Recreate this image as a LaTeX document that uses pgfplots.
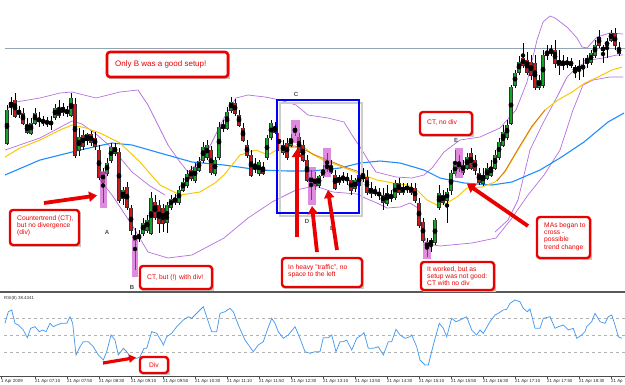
\documentclass[border=0pt]{standalone}
\usepackage{pgfplots}
\pgfplotsset{compat=1.18}
\usepackage{pgfplotstable}
\usepackage{fontspec}
\setmainfont{Liberation Sans}
\usetikzlibrary{arrows.meta}
\definecolor{bull}{RGB}{20,165,40}
\definecolor{bear}{RGB}{205,25,25}
\definecolor{bandp}{RGB}{180,110,225}
\definecolor{maY}{RGB}{250,200,0}
\definecolor{maB}{RGB}{30,140,255}
\definecolor{maO}{RGB}{205,120,40}
\definecolor{rsic}{RGB}{70,155,240}
\definecolor{annred}{RGB}{235,0,0}
\definecolor{pinkhl}{RGB}{205,80,205}
\definecolor{priceline}{RGB}{150,165,180}

\pgfplotstableread{
x o h l c
7 143 105 145 110
11 106 97 115 102
15 100 93 118 116
19 114 106 118 110
23 113 108 125 123
27 125 118 134 132
31 133 118 135 123
35 123 108 125 113
39 119 112 127 121
43 122 116 126 121
47 122 117 127 123
51 122 116 130 124
55 117 104 120 108
59 115 100 118 110
63 107 103 116 112
67 113 106 117 110
71 115 93 117 98
75 104 98 158 155
79 150 128 156 137
83 135 130 150 146
87 140 133 145 134
91 134 131 146 142
95 138 132 150 146
99 150 145 180 177
103 172 168 203 182
107 173 158 176 163
111 160 143 163 147
115 153 143 156 147
119 152 148 203 200
123 198 187 205 190
127 187 182 210 207
131 208 205 235 230
135 235 228 270 240
139 236 230 242 238
143 233 218 236 223
147 230 215 233 220
151 233 192 235 198
155 202 195 220 217
159 205 200 233 223
163 208 204 232 223
167 222 202 233 205
171 207 195 210 199
175 198 194 205 202
179 202 186 205 190
183 190 178 192 182
187 185 170 188 174
191 170 166 181 178
195 180 163 183 167
199 170 157 172 161
203 160 142 163 147
207 157 140 160 145
211 150 146 175 172
215 173 157 176 160
219 157 122 160 127
223 128 120 132 125
227 128 107 130 112
231 110 97 113 102
235 103 99 116 113
239 115 110 127 125
243 128 123 142 140
247 145 140 158 155
251 155 150 177 175
255 167 158 173 168
259 173 160 176 162
263 167 162 175 173
267 157 135 160 138
271 137 120 140 123
275 127 122 134 132
279 133 130 152 150
283 152 140 155 145
287 143 138 160 157
291 145 134 147 138
295 132 125 136 128
299 137 133 153 152
303 145 140 162 160
307 160 155 182 180
311 183 170 200 177
315 178 172 190 185
319 185 175 188 176
323 175 165 178 170
327 168 153 172 165
331 167 160 174 172
335 175 170 190 188
339 182 175 185 177
343 178 172 183 179
347 178 173 185 180
351 180 175 195 190
355 188 178 192 180
359 185 172 188 175
363 176 168 182 178
367 177 170 195 192
371 188 182 198 193
375 191 186 196 193
379 193 188 200 195
383 195 188 210 202
387 203 185 206 193
391 195 190 202 198
395 197 180 200 183
399 183 178 195 192
403 187 183 195 192
407 187 183 193 189
411 192 183 195 187
415 188 183 203 200
419 203 198 228 225
423 222 218 243 240
427 242 238 257 248
431 245 238 252 240
435 242 218 245 220
439 207 185 210 193
443 195 190 205 202
447 200 188 223 192
451 190 170 195 173
455 173 150 176 165
459 168 155 172 162
463 172 160 175 165
467 168 153 170 157
471 153 148 170 168
475 160 155 175 170
479 173 168 185 182
483 183 168 186 175
487 178 163 180 168
491 175 160 177 167
495 168 150 170 155
499 157 138 160 142
503 145 125 147 132
507 137 120 140 125
511 123 85 125 87
515 85 70 88 73
519 72 56 75 62
523 58 43 68 65
527 60 52 75 72
531 62 55 80 75
535 63 55 90 87
539 87 75 90 80
543 85 50 88 55
547 55 45 60 52
551 53 45 56 50
555 50 40 68 63
559 60 50 75 65
563 62 55 70 65
567 64 57 68 62
571 62 58 68 65
575 72 65 78 67
579 67 60 80 69
583 66 58 77 68
587 63 55 68 58
591 62 50 65 53
595 55 40 58 45
599 37 30 48 45
603 48 45 63 50
607 45 38 58 42
611 40 30 42 33
615 33 28 50 45
619 48 42 56 53
}\candles

\newcommand\annf{\fontsize{6.7}{7.4}\selectfont}
\newcommand\tickf{\fontsize{4.4}{5}\selectfont}
\newcommand\tlab[2]{\draw[black!70, line width=0.5pt] (#1,376) -- (#1,378.5);
  \node[anchor=west, inner sep=0pt, font=\tickf, text=black!85] at (#1,381) {#2};}

\begin{document}
\begin{tikzpicture}
\useasboundingbox (0,0) rectangle (625pt,384pt);
\clip (0,0) rectangle (625pt,384pt);
\begin{axis}[at={(0,0)}, anchor=south west, width=625pt, height=384pt, scale only axis,
  xmin=0, xmax=625, ymin=0, ymax=384, y dir=reverse, axis lines=none, clip=false]

% price level line
\draw[priceline, line width=0.8pt] (5,48) -- (625,48);

% bands and moving averages
\addplot[bandp, line width=0.7pt] coordinates {(5,125) (8,108) (16,102) (40,98) (60,93) (72,92) (96,98) (120,92) (138,90) (148,105) (158,125) (168,145) (180,162) (188,172) (196,165) (208,150) (224,118) (236,98) (248,95) (265,97) (280,100) (296,105) (308,115) (328,118) (344,122) (352,135) (362,150) (368,160) (376,172) (396,177) (412,178) (424,175) (432,168) (444,152) (460,140) (480,137) (500,128) (516,110) (527,82) (537,40) (543,22) (550,16) (555,18) (567,27) (577,38) (582,47) (587,48) (597,37) (610,33) (623,34)};
\addplot[bandp, line width=0.7pt] coordinates {(5,150) (40,138) (72,121) (82,124) (96,134) (112,148) (132,172) (150,186) (165,195)};
\addplot[bandp, line width=0.7pt] coordinates {(100,180) (112,195) (132,225) (148,252) (168,258) (192,255) (224,238) (248,218) (272,202) (296,190) (315,186) (333,192) (345,193) (357,194) (365,198) (377,203) (387,208) (400,207) (410,203) (418,208) (423,232) (427,244) (440,246) (472,243) (496,238) (512,218) (528,195) (544,175) (560,150) (573,110) (583,85) (593,80) (610,77) (623,77)};
\addplot[bandp, line width=0.7pt] coordinates {(495,232) (508,220) (518,200) (530,150) (543,123) (557,97) (567,77) (577,67) (590,60) (603,58) (617,55) (623,55)};
\addplot[maB, line width=1.1pt] coordinates {(5,175) (40,160) (80,150) (112,143) (132,145) (160,153) (192,162) (224,165) (260,170) (288,171) (312,171) (340,168) (360,163) (380,161) (400,163) (424,170) (440,178) (464,183) (492,185) (512,182) (540,170) (560,158) (584,142) (608,122) (624,113)};
\addplot[maY, line width=1.0pt] coordinates {(5,157) (20,148) (40,140) (60,130) (72,125) (86,128) (100,133) (120,143) (140,162) (160,185) (180,195) (200,192) (215,183) (224,175) (240,155) (256,150) (268,155) (280,148) (304,147) (312,154) (323,160) (337,165) (350,170) (363,175) (377,180) (393,183) (407,185) (417,190) (427,200) (437,205) (447,203) (457,197) (467,188) (482,187) (495,182) (505,172) (518,150) (532,127) (545,110) (558,100) (572,92) (585,83) (598,77) (612,70) (622,67)};
\addplot[maO, line width=0.8pt] coordinates {(282,147) (295,146) (305,150) (315,155) (330,161) (345,167) (360,172)};
\addplot[maO, line width=0.8pt] coordinates {(497,181) (505,171) (518,149) (532,126) (545,110)};

% candles: wicks, outlines, bodies
\addplot[only marks, mark=none, error bars/.cd, y dir=both, y explicit, error mark=none,
  error bar style={black, line width=0.6pt}]
  table[x=x, y expr=(\thisrow{h}+\thisrow{l})/2, y error expr=(\thisrow{l}-\thisrow{h})/2] {\candles};
\addplot[only marks, mark=none, error bars/.cd, y dir=both, y explicit, error mark=none,
  error bar style={black!80, line width=3.3pt}]
  table[x=x, y expr=(\thisrow{o}+\thisrow{c})/2, y error expr=abs(\thisrow{o}-\thisrow{c})/2+0.5] {\candles};
\addplot[only marks, mark=none, error bars/.cd, y dir=both, y explicit, error mark=none,
  error bar style={bull, line width=2.1pt}]
  table[x=x, y expr=(\thisrow{o}+\thisrow{c})/2, y error expr=(\thisrow{c}<\thisrow{o})*(abs(\thisrow{o}-\thisrow{c})/2-0.4)] {\candles};
\addplot[only marks, mark=none, error bars/.cd, y dir=both, y explicit, error mark=none,
  error bar style={bear, line width=2.1pt}]
  table[x=x, y expr=(\thisrow{o}+\thisrow{c})/2, y error expr=(\thisrow{c}>\thisrow{o})*(abs(\thisrow{o}-\thisrow{c})/2-0.4)] {\candles};

% pink highlights
\fill[pinkhl, fill opacity=0.65] (100,171) rectangle (107,208);
\fill[pinkhl, fill opacity=0.65] (132,235) rectangle (138,277);
\fill[pinkhl, fill opacity=0.65] (291,120) rectangle (300,143);
\fill[pinkhl, fill opacity=0.65] (308,167) rectangle (316,205);
\fill[pinkhl, fill opacity=0.65] (323,148) rectangle (331,177);
\fill[pinkhl, fill opacity=0.65] (423,242) rectangle (431,259);
\fill[pinkhl, fill opacity=0.65] (455,148) rectangle (463,178);

% blue box
\draw[black!20, line width=1.5pt] (280,103) rectangle (362,216);
\draw[blue, line width=2.4pt] (277,100) rectangle (359,213);

% letters
\node[text=black!70, font=\fontsize{6}{7}\selectfont\bfseries] at (107,232) {A};
\node[text=black!70, font=\fontsize{6}{7}\selectfont\bfseries] at (132,287) {B};
\node[text=black!70, font=\fontsize{6}{7}\selectfont\bfseries] at (296,94) {C};
\node[text=black!70, font=\fontsize{6}{7}\selectfont\bfseries] at (307,221) {D};
\node[text=black!70, font=\fontsize{6}{7}\selectfont\bfseries] at (332,228) {E};
\node[text=black!70, font=\fontsize{6}{7}\selectfont\bfseries] at (456,140) {E};

% panel separator and RSI panel
\draw[black!65, line width=2pt] (0,291.5) -- (625,291.5);
\node[anchor=west, inner sep=0pt, font=\tickf, text=black!80] at (4,298) {RSI(8) 38.4341};
\draw[black!30, dashed, line width=0.5pt] (4,318) -- (625,318);
\draw[black!30, dashed, line width=0.5pt] (4,335) -- (625,335);
\draw[black!30, dashed, line width=0.5pt] (4,352) -- (625,352);
\addplot[rsic, line width=0.75pt] coordinates {(5,323.3) (8.3,311.7) (11.7,310) (15,323.3) (18.3,325) (23.3,330) (27.3,337.7) (30.7,328.3) (35,326.7) (39.3,331.7) (42.7,330) (46,331.7) (50,323.3) (53.3,326.7) (56.7,325) (61.7,323.3) (66.7,323.3) (70,316.7) (72.7,323.3) (76,355) (80,346.7) (83.3,341.7) (88.3,341.7) (93.3,346.7) (98.3,355) (103.3,360) (106.7,351.7) (111,335) (115,340) (118.3,355) (123.3,348.3) (126.7,351.7) (131.7,358.3) (136.7,358.3) (140,356.7) (144,348.3) (146.7,348.3) (151.7,331.7) (156.7,333.3) (161.7,341.7) (163.3,345) (166.7,336.7) (171.7,333.3) (176.7,326.7) (183.3,320) (188.3,316.7) (191.7,318.3) (196.7,313.3) (203.3,306.7) (208.3,321.7) (211.7,331.7) (216.7,331.7) (220,313.3) (225,311.7) (230,308.3) (233.3,311.7) (238.3,325) (245,340) (253.3,351.7) (258.3,345) (263.3,341.7) (266.7,331.7) (271.7,318.3) (275,323.3) (278.3,331.7) (283.3,338.3) (288.3,335) (295,326.7) (300,338.3) (305,351.7) (310,353.3) (315,351.7) (320,351.7) (323.3,337.7) (328.3,337.7) (331.7,335) (336,351.7) (340,341.7) (343.3,341.7) (346.7,340) (351.7,350) (356.7,338.3) (361.7,335) (364,332.7) (368.3,348.3) (373.3,348.3) (378.3,346.7) (383.3,355) (388.3,341.7) (391.7,341.7) (396,329.3) (400,335) (405,338.3) (410,336.7) (411.7,335) (416.7,346.7) (420,360) (425,365) (428.3,365) (433.3,345) (439.3,323.3) (443.3,328.3) (446.7,336.7) (451.7,318.3) (456,321.7) (460,320) (463.3,318.3) (466.7,316.7) (471.7,330) (476.7,335) (480,330) (483.3,333.3) (490,321.7) (495,315) (498.3,313.3) (503.3,310) (506.7,309.3) (510,303.3) (515,300) (520,301.7) (523.3,308.3) (527.3,311.7) (530,309) (535,328.3) (540,328.3) (543.3,318.3) (550,316.7) (555,328.3) (558.3,326.7) (563.3,325) (568.3,330) (573.3,328.3) (576.7,338.3) (581.7,335) (585,331.7) (586.7,326.7) (591.7,321.7) (595,313.3) (600,321.7) (605,323.3) (608.3,316.7) (611.7,315) (615,325) (618.3,336.7) (621.7,338.3)};

% bottom time axis
\draw[black!70, line width=0.6pt] (0,376) -- (625,376);
\tlab{1}{1 Apr 2009}
\tlab{35}{21 Apr 07:10}
\tlab{67}{21 Apr 07:50}
\tlab{99}{21 Apr 08:30}
\tlab{131}{21 Apr 09:10}
\tlab{163}{21 Apr 09:50}
\tlab{195}{21 Apr 10:30}
\tlab{227}{21 Apr 11:10}
\tlab{259}{21 Apr 11:50}
\tlab{291}{21 Apr 12:30}
\tlab{323}{21 Apr 13:10}
\tlab{355}{21 Apr 13:50}
\tlab{387}{21 Apr 14:30}
\tlab{419}{21 Apr 15:10}
\tlab{451}{21 Apr 15:50}
\tlab{483}{21 Apr 16:30}
\tlab{515}{21 Apr 17:10}
\tlab{547}{21 Apr 17:50}
\tlab{579}{21 Apr 18:30}
\tlab{611}{21 Ap}

% annotation boxes
\fill[black!22] (109,54) rectangle (230,79);
\draw[annred, line width=2.6pt, rounded corners=3pt, fill=white] (107,52) rectangle (228,77);
\node[anchor=west, inner sep=0pt, text=annred, font=\fontsize{8}{9}\selectfont] at (115,64.5) {Only B was a good setup!};

\fill[black!22] (12,212) rectangle (81,247);
\draw[annred, line width=2.4pt, rounded corners=3pt, fill=white] (10,210) rectangle (79,245);
\node[anchor=north west, inner sep=0pt, align=left, text=annred, font=\annf] at (17,215) {Countertrend (CT),\\but no divergence\\(div)};

\fill[black!22] (142,268) rectangle (214,291);
\draw[annred, line width=2.4pt, rounded corners=3pt, fill=white] (140,266) rectangle (212,289);
\node[anchor=west, inner sep=0pt, text=annred, font=\annf] at (147,277.5) {CT, but (!) with div!};

\fill[black!22] (284,260) rectangle (364,289);
\draw[annred, line width=2.4pt, rounded corners=3pt, fill=white] (282,258) rectangle (362,287);
\node[anchor=north west, inner sep=0pt, align=left, text=annred, font=\annf] at (288,264) {In heavy "traffic", no\\space to the left};

\fill[black!22] (422,114) rectangle (474,137);
\draw[annred, line width=2.4pt, rounded corners=3pt, fill=white] (420,112) rectangle (472,135);
\node[anchor=west, inner sep=0pt, text=annred, font=\annf] at (427,122.5) {CT, no div};

\fill[black!22] (423,264) rectangle (496,292);
\draw[annred, line width=2.4pt, rounded corners=3pt, fill=white] (421,262) rectangle (494,290);
\node[anchor=north west, inner sep=0pt, align=left, text=annred, font=\annf] at (427,266) {It worked, but as\\setup was not good:\\CT with no div};

\fill[black!22] (539,219) rectangle (592,260);
\draw[annred, line width=2.4pt, rounded corners=3pt, fill=white] (537,217) rectangle (590,258);
\node[anchor=north west, inner sep=0pt, align=left, text=annred, font=\annf] at (544,222) {MAs began to\\cross -\\possible\\trend change};

\fill[black!22] (142,359) rectangle (170,375);
\draw[annred, line width=2.4pt, rounded corners=3pt, fill=white] (140,357) rectangle (168,373);
\node[inner sep=0pt, text=annred, font=\annf] at (154,365) {Div};

% arrows
\draw[annred, line width=3.8pt, -{Triangle[length=8pt,width=10pt]}] (44,203) -- (97,195.5);
\draw[annred, line width=3.8pt, -{Triangle[length=8pt,width=10pt]}] (297,237) -- (297,149);
\draw[annred, line width=3.8pt, -{Triangle[length=8pt,width=10pt]}] (317,252) -- (312,206);
\draw[annred, line width=3.8pt, -{Triangle[length=8pt,width=10pt]}] (337,250) -- (328,190);
\draw[annred, line width=3.8pt, -{Triangle[length=8pt,width=10pt]}] (528,226) -- (467,184);
\draw[annred, line width=3.2pt, -{Triangle[length=7pt,width=8pt]}] (103,363) -- (136,357.5);

\end{axis}
\end{tikzpicture}
\end{document}
